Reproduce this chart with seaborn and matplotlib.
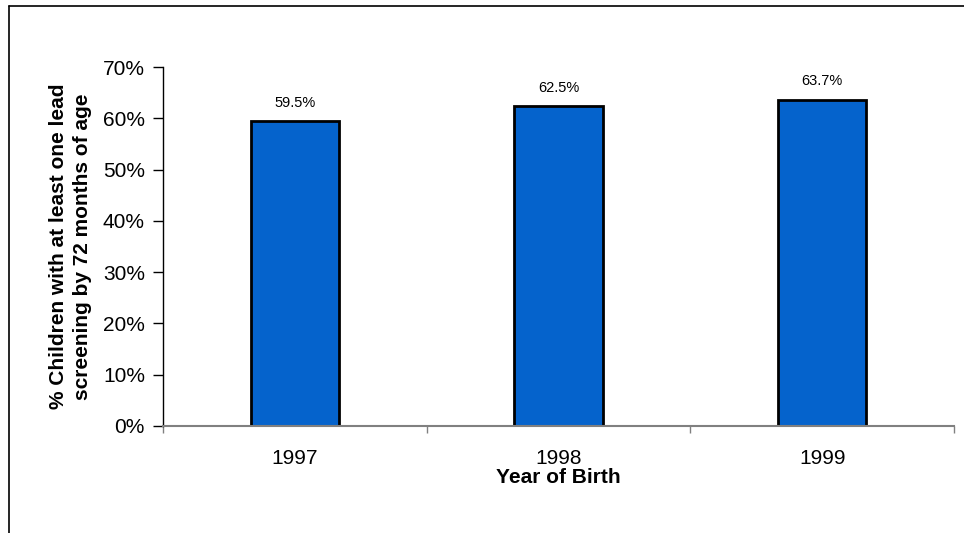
import numpy as np
import pandas as pd
import seaborn as sns
import matplotlib.pyplot as plt
from matplotlib.lines import Line2D
from matplotlib.ticker import FixedLocator, PercentFormatter

# data
years = ['1997', '1998', '1999']
pct_screened = [0.595, 0.625, 0.637]
value_labels = ['59.5%', '62.5%', '63.7%']
y_ticks = [0.0, 0.1, 0.2, 0.3, 0.4, 0.5, 0.6, 0.7]

sns.set_style('white')
plt.rcParams['font.family'] = ['Liberation Sans', 'DejaVu Sans']
plt.rcParams['text.color'] = 'black'
plt.rcParams['axes.labelcolor'] = 'black'
plt.rcParams['xtick.color'] = 'black'
plt.rcParams['ytick.color'] = 'black'

df = pd.DataFrame({'year': years, 'pct': pct_screened})

fig = plt.figure(figsize=(9.64, 5.33), dpi=100)
ax = fig.add_axes([163/964, 107.3/533, (954-163)/964, 358.4/533])

sns.barplot(data=df, x='year', y='pct', color='#0563CC', saturation=1,
            edgecolor='black', linewidth=2, width=0.336, ax=ax)

ax.bar_label(ax.containers[0], labels=value_labels, padding=8, fontsize=10.5)

ax.set_xlim(-0.5, 2.5)
ax.set_ylim(0, 0.7)
ax.set_yticks(y_ticks)
ax.yaxis.set_major_formatter(PercentFormatter(1.0, decimals=0))

# excel style: ticks between categories
ax.xaxis.set_minor_locator(FixedLocator([-0.5, 0.5, 1.5, 2.5]))
ax.tick_params(axis='x', which='major', length=0, pad=17, labelsize=15)
ax.tick_params(axis='x', which='minor', length=5, width=1, color='#808080',
               direction='out', bottom=True)
ax.tick_params(axis='y', length=7, width=1, color='black', direction='out',
               left=True, pad=6, labelsize=15)

for side in ['top', 'right']:
    ax.spines[side].set_visible(False)
ax.spines['left'].set_color('black')
ax.spines['left'].set_linewidth(1)
ax.spines['bottom'].set_color('#808080')
ax.spines['bottom'].set_linewidth(1.5)

ax.set_xlabel('Year of Birth', fontsize=15, fontweight='bold', labelpad=0)
ax.set_ylabel('% Children with at least one lead\nscreening by 72 months of age',
              fontsize=15, fontweight='bold', labelpad=8, linespacing=1.35)

# outer frame (only left and top edges fall inside the image)
fig.add_artist(Line2D([9/964, 9/964], [0, 1 - 6/533], transform=fig.transFigure,
                      color='black', linewidth=1.2))
fig.add_artist(Line2D([9/964, 1], [1 - 6/533, 1 - 6/533], transform=fig.transFigure,
                      color='black', linewidth=1.2))

plt.savefig('out.png', dpi=100)
